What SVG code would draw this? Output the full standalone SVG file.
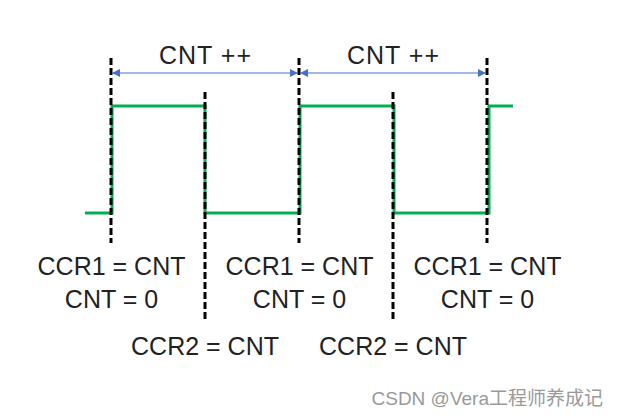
<svg xmlns="http://www.w3.org/2000/svg" width="620" height="419" viewBox="0 0 620 419">
<style>
.dash{stroke:#000;stroke-width:3;stroke-dasharray:7 3;fill:none}
.sig{stroke:#00B050;stroke-width:3;fill:none;stroke-linejoin:miter}
.arr{stroke:#4472C4;stroke-width:1.2;fill:none;marker-start:url(#ah);marker-end:url(#ah)}
.lbl{font-family:"Liberation Sans",Arial,sans-serif;font-size:25px;fill:#222;text-anchor:middle}
.wm{font-family:"Liberation Sans","Noto Sans CJK SC",sans-serif;font-size:19px;fill:#999;text-anchor:end}
</style>
<defs>
<marker id="ah" viewBox="0 0 10 10" refX="10" refY="5" markerWidth="8" markerHeight="8" markerUnits="userSpaceOnUse" orient="auto-start-reverse">
<path d="M0,0 L10,5 L0,10 z" fill="#4472C4"/>
</marker>
</defs>
<rect width="620" height="419" fill="#fff"/>
<g id="signal">
<path class="sig" d="M85,213 H112 V106 H205 V213 H300 V106 H394 V213 H489 V106 H513"/>
</g>
<g id="markers">
<line id="m1" class="dash" x1="111" y1="58" x2="111" y2="243"/>
<line id="m2" class="dash" x1="205" y1="92" x2="205" y2="321"/>
<line id="m3" class="dash" x1="299" y1="58" x2="299" y2="243"/>
<line id="m4" class="dash" x1="393" y1="92" x2="393" y2="321"/>
<line id="m5" class="dash" x1="487" y1="58" x2="487" y2="243"/>
</g>
<g id="connectors">
<line class="arr" x1="112" y1="73" x2="298" y2="73"/>
<line class="arr" x1="300" y1="73" x2="486" y2="73"/>
</g>
<g id="labels">
<text class="lbl" x="205" y="64" textLength="92">CNT ++</text>
<text class="lbl" x="393" y="64" textLength="92">CNT ++</text>
<text class="lbl" x="111.5" y="275">CCR1 = CNT</text>
<text class="lbl" x="111.5" y="308">CNT = 0</text>
<text class="lbl" x="299.5" y="275">CCR1 = CNT</text>
<text class="lbl" x="299.5" y="308">CNT = 0</text>
<text class="lbl" x="487.5" y="275">CCR1 = CNT</text>
<text class="lbl" x="487.5" y="308">CNT = 0</text>
<text class="lbl" x="205" y="355">CCR2 = CNT</text>
<text class="lbl" x="393" y="355">CCR2 = CNT</text>
</g>
<text class="wm" x="603" y="405">CSDN @Vera工程师养成记</text>
</svg>
